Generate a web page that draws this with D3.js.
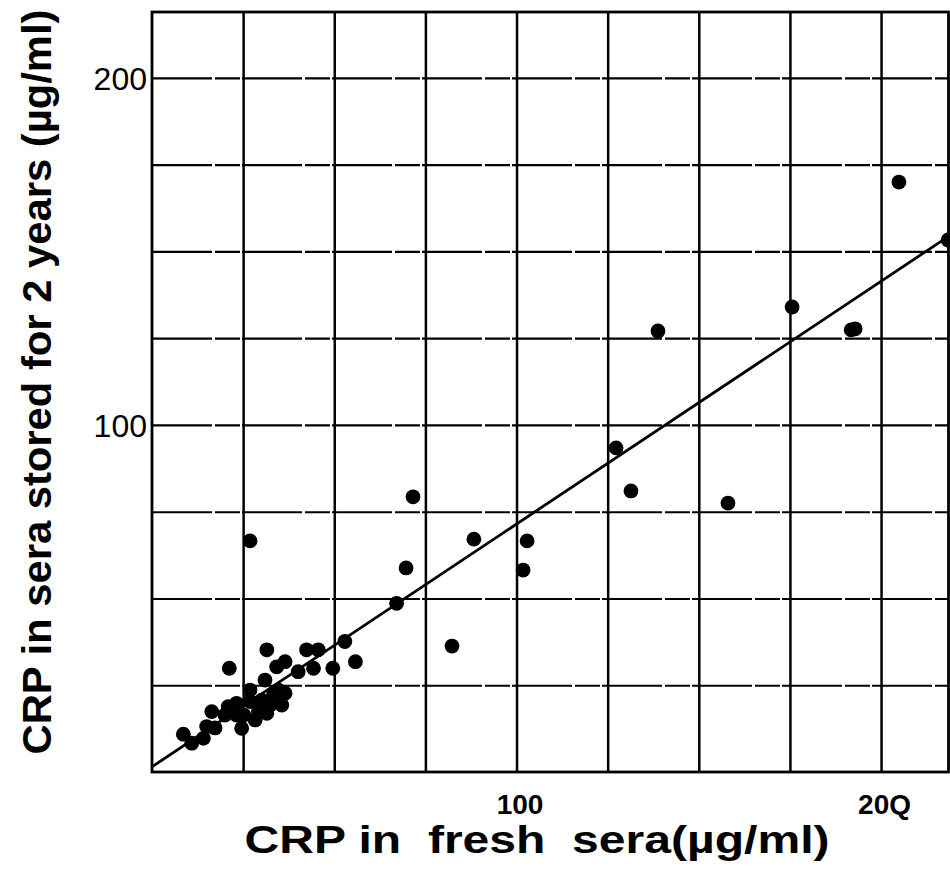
<!DOCTYPE html>
<html>
<head>
<meta charset="utf-8">
<script src="https://cdn.jsdelivr.net/npm/d3@7"></script>
<style>
  html, body { margin: 0; padding: 0; background: #fff; }
  svg { display: block; font-family: "Liberation Sans", Arial, Helvetica, sans-serif; }
</style>
</head>
<body>
<div id="chart"></div>
<script>
'use strict';

// CRP in fresh sera (x) vs CRP after 2 years storage (y), ug/ml
var freshCrp = [
  8.6, 10.9, 14.1, 15.0, 17.3, 16.4, 20.9, 20.0, 23.2, 24.6,
  23.2, 26.9, 26.9, 29.2, 31.5, 30.1, 33.3, 35.6, 36.5, 34.7,
  31.0, 40.1, 21.2, 31.5, 34.2, 36.5, 42.4, 45.6, 44.3, 49.6,
  52.9, 55.8, 67.1, 26.9, 69.7, 71.6, 82.3, 88.3, 101.8, 102.9,
  127.3, 131.4, 138.8, 158.0, 175.6, 191.8, 192.9, 204.9, 218.4,
  25.2, 28.3, 32.4
];
var storedCrp = [
  10.9, 8.3, 9.7, 13.1, 12.7, 17.4, 18.8, 16.4, 16.4, 12.6,
  19.8, 23.6, 20.3, 17.4, 16.9, 20.7, 22.2, 19.3, 22.7, 23.6,
  26.5, 28.9, 29.9, 35.2, 30.3, 31.8, 35.2, 35.2, 29.9, 29.9,
  37.6, 31.8, 48.6, 66.6, 58.8, 79.3, 36.3, 67.1, 58.2, 66.6,
  93.4, 81.0, 127.1, 77.5, 134.0, 127.4, 127.7, 170.0, 153.3,
  16.4, 15.0, 19.3
];

// regression line end points
var fitX = [0, 218];
var fitY = [1.5, 154];

var gridX = [25, 50, 75, 100, 125, 150, 175, 200];
var gridY = [25, 50, 75, 100, 125, 150, 175, 200];
var tickX = [100, 200];
var tickY = [100, 200];
var tickXLabels = ['100', '20Q'];

var width = 950, height = 886;
var plot = { left: 152, right: 948.5, top: 12, bottom: 772 };

var svg = d3.select('#chart').append('svg')
  .attr('width', width)
  .attr('height', height);

svg.append('rect')
  .attr('width', width)
  .attr('height', height)
  .attr('fill', 'white');

var x = d3.scaleLinear().domain([0, 218.5]).range([plot.left, plot.right]);
var y = d3.scaleLinear().domain([0, 219]).range([plot.bottom, plot.top]);

// grid
svg.append('g')
  .attr('class', 'grid-x')
  .attr('transform', 'translate(0,' + plot.bottom + ')')
  .call(d3.axisBottom(x).tickValues(gridX).tickSize(-(plot.bottom - plot.top)).tickFormat(''))
  .call(function(g) {
    g.select('.domain').remove();
    g.selectAll('line').attr('stroke', '#000').attr('stroke-width', 2.5);
  });

svg.append('g')
  .attr('class', 'grid-y')
  .attr('transform', 'translate(' + plot.left + ',0)')
  .call(d3.axisLeft(y).tickValues(gridY).tickSize(-(plot.right - plot.left)).tickFormat(''))
  .call(function(g) {
    g.select('.domain').remove();
    g.selectAll('line').attr('stroke', '#000').attr('stroke-width', 2.2)
      .attr('stroke-dasharray', '60,3,25,2');
  });

// frame
svg.append('rect')
  .attr('x', plot.left)
  .attr('y', plot.top)
  .attr('width', plot.right - plot.left)
  .attr('height', plot.bottom - plot.top)
  .attr('fill', 'none')
  .attr('stroke', '#000')
  .attr('stroke-width', 2.8);

// tick labels
svg.append('g')
  .attr('transform', 'translate(0,' + plot.bottom + ')')
  .call(d3.axisBottom(x).tickValues(tickX).tickSize(0).tickPadding(22)
    .tickFormat(function(d, i) { return tickXLabels[i]; }))
  .call(function(g) {
    g.select('.domain').remove();
    g.selectAll('text')
      .attr('fill', '#000')
      .style('font-size', '28px')
      .style('font-weight', 'bold')
      .attr('dx', 3);
  });

svg.append('g')
  .attr('transform', 'translate(' + plot.left + ',0)')
  .call(d3.axisLeft(y).tickValues(tickY).tickSize(0).tickPadding(5))
  .call(function(g) {
    g.select('.domain').remove();
    g.selectAll('text')
      .attr('fill', '#000')
      .style('font-size', '32px')
      .attr('dy', '0.36em');
  });

// regression line
var line = d3.line()
  .x(function(d) { return x(d[0]); })
  .y(function(d) { return y(d[1]); });

svg.append('path')
  .datum(d3.zip(fitX, fitY))
  .attr('d', line)
  .attr('fill', 'none')
  .attr('stroke', '#000')
  .attr('stroke-width', 2.8);

// points
svg.append('g')
  .selectAll('circle')
  .data(d3.zip(freshCrp, storedCrp))
  .enter().append('circle')
  .attr('cx', function(d) { return x(d[0]); })
  .attr('cy', function(d) { return y(d[1]); })
  .attr('r', 7.4)
  .attr('fill', '#000');

// axis titles
svg.append('text')
  .attr('x', 537)
  .attr('y', 853)
  .attr('text-anchor', 'middle')
  .attr('textLength', 585)
  .attr('lengthAdjust', 'spacingAndGlyphs')
  .style('font-size', '38px')
  .style('font-weight', 'bold')
  .style('white-space', 'pre')
  .text('CRP in  fresh  sera(\u00b5g/ml)');

svg.append('text')
  .attr('transform', 'translate(51,382) rotate(-90)')
  .attr('text-anchor', 'middle')
  .attr('textLength', 745)
  .attr('lengthAdjust', 'spacingAndGlyphs')
  .style('font-size', '40px')
  .style('font-weight', 'bold')
  .text('CRP in sera stored for 2 years (\u00b5g/ml)');
</script>
</body>
</html>
